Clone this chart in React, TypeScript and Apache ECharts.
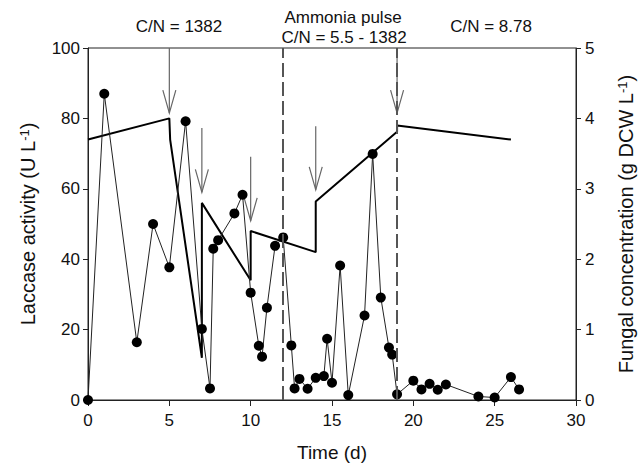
import React, { useEffect, useRef } from "react";
import * as echarts from "echarts";

// Laccase activity (U L-1) vs time (d)
const laccaseTime = [0, 1, 3, 4, 5, 6, 7, 7.5, 7.7, 8, 9, 9.5, 10, 10.5, 10.7, 11, 11.5, 12, 12.5, 12.7, 13, 13.5, 14, 14.5, 14.7, 15, 15.5, 16, 17, 17.5, 18, 18.5, 18.7, 19, 20, 20.5, 21, 21.5, 22, 24, 25, 26, 26.5];
const laccaseValues = [0, 87, 16.4, 50, 37.7, 79.2, 20.2, 3.3, 43, 45.4, 53, 58.3, 30.5, 15.4, 12.3, 26.2, 43.8, 46.2, 15.5, 3.3, 6.0, 3.2, 6.3, 6.8, 17.4, 4.9, 38.2, 1.4, 24.0, 69.9, 29.1, 14.9, 12.9, 1.6, 5.5, 3.0, 4.6, 2.9, 4.4, 1.0, 0.7, 6.5, 3.0];

// Fungal concentration (g DCW L-1)
const fungalTime = [0, 5, 5.05, 7, 7, 10, 10, 14, 14, 19, 19, 26];
const fungalValues = [3.7, 4.0, 3.7, 0.6, 2.8, 1.7, 2.4, 2.1, 2.82, 3.81, 3.9, 3.7];

// Feeding arrows (time, top and tip on the laccase scale)
const arrowTime = [5, 7, 10, 14, 19];
const arrowTop = [100, 77.3, 69.1, 77.8, 100];
const arrowTip = [81.5, 59, 50.9, 59.7, 81.5];

// Phase boundaries (time)
const phaseBounds = [12, 19];

const xTicks = [0, 5, 10, 15, 20, 25, 30];
const leftTicks = [0, 20, 40, 60, 80, 100];
const rightTicks = [0, 1, 2, 3, 4, 5];

const FONT = "'Liberation Sans', Arial, Helvetica, sans-serif";

export default function App() {
  const ref = useRef<HTMLDivElement>(null);
  useEffect(() => {
    if (!ref.current) return;
    const chart = echarts.init(ref.current, undefined, { renderer: "svg" });
    const axisLine = { show: true, lineStyle: { color: "#222", width: 1 } };
    const option: any = {
      animation: false,
      backgroundColor: "#fff",
      textStyle: { fontFamily: FONT },
      grid: { left: 88, right: 66, top: 48, bottom: 67, show: true, borderColor: "#222", borderWidth: 1 },
      xAxis: {
        type: "value",
        min: xTicks[0],
        max: xTicks[xTicks.length - 1],
        interval: 5,
        axisLine,
        axisTick: { show: true, inside: false, length: 6, lineStyle: { color: "#222" } },
        axisLabel: { color: "#111", fontSize: 17, margin: 12, fontFamily: FONT },
        splitLine: { show: false },
        name: "Time (d)",
        nameLocation: "middle",
        nameGap: 43,
        nameTextStyle: { color: "#111", fontSize: 19, fontFamily: FONT },
      },
      yAxis: [
        {
          type: "value",
          min: leftTicks[0],
          max: leftTicks[leftTicks.length - 1],
          interval: 20,
          position: "left",
          axisLine,
          axisTick: { show: true, length: 5, lineStyle: { color: "#222" } },
          axisLabel: { color: "#111", fontSize: 17, margin: 8, fontFamily: FONT },
          splitLine: { show: false },
          name: "Laccase activity (U L{sup|-1})",
          nameLocation: "middle",
          nameRotate: 90,
          nameGap: 50,
          nameTextStyle: {
            color: "#111",
            fontSize: 20,
            fontFamily: FONT,
            rich: { sup: { fontSize: 13, verticalAlign: "top", color: "#111", fontFamily: FONT } },
          },
        },
        {
          type: "value",
          min: rightTicks[0],
          max: rightTicks[rightTicks.length - 1],
          interval: 1,
          position: "right",
          axisLine,
          axisTick: { show: true, length: 5, lineStyle: { color: "#222" } },
          axisLabel: { color: "#111", fontSize: 17, margin: 9, fontFamily: FONT },
          splitLine: { show: false },
          name: "Fungal concentration (g DCW L{sup|-1})",
          nameLocation: "middle",
          nameRotate: 90,
          nameGap: 40,
          nameTextStyle: {
            color: "#111",
            fontSize: 20,
            fontFamily: FONT,
            rich: { sup: { fontSize: 13, verticalAlign: "top", color: "#111", fontFamily: FONT } },
          },
        },
      ],
      graphic: [
        { type: "text", x: 179, y: 26, style: { text: "C/N = 1382", fontSize: 17, fontFamily: FONT, fill: "#111", align: "center", verticalAlign: "middle" } },
        { type: "text", x: 343, y: 17, style: { text: "Ammonia pulse", fontSize: 17, fontFamily: FONT, fill: "#111", align: "center", verticalAlign: "middle" } },
        { type: "text", x: 344, y: 37, style: { text: "C/N = 5.5 - 1382", fontSize: 17, fontFamily: FONT, fill: "#111", align: "center", verticalAlign: "middle" } },
        { type: "text", x: 491, y: 26, style: { text: "C/N = 8.78", fontSize: 17, fontFamily: FONT, fill: "#111", align: "center", verticalAlign: "middle" } },
      ],
      series: [
        {
          type: "line",
          yAxisIndex: 1,
          data: fungalTime.map((t, i) => [t, fungalValues[i]]),
          symbol: "none",
          lineStyle: { color: "#000", width: 2 },
          z: 3,
        },
        {
          type: "line",
          yAxisIndex: 0,
          data: laccaseTime.map((t, i) => [t, laccaseValues[i]]),
          symbol: "circle",
          symbolSize: 10,
          itemStyle: { color: "#000" },
          lineStyle: { color: "#222", width: 1 },
          z: 4,
          markLine: {
            silent: true,
            symbol: "none",
            label: { show: false },
            lineStyle: { color: "#555", width: 2, type: [14, 5] },
            data: phaseBounds.map((b) => ({ xAxis: b })),
          },
        },
        {
          type: "custom",
          yAxisIndex: 0,
          z: 2,
          data: arrowTime.map((t, i) => [t, arrowTop[i], arrowTip[i]]),
          renderItem: (params: any, api: any) => {
            const top = api.coord([api.value(0), api.value(1)]);
            const tip = api.coord([api.value(0), api.value(2)]);
            return {
              type: "group",
              children: [
                { type: "line", shape: { x1: top[0], y1: top[1], x2: tip[0], y2: tip[1] }, style: { stroke: "#666", lineWidth: 1.2 } },
                {
                  type: "polyline",
                  shape: { points: [[tip[0] - 6.5, tip[1] - 23], [tip[0], tip[1]], [tip[0] + 6.5, tip[1] - 23]] },
                  style: { stroke: "#666", fill: "none", lineWidth: 1.2 },
                },
              ],
            };
          },
        },
      ],
    };
    chart.setOption(option);
    return () => chart.dispose();
  }, []);
  return <div ref={ref} style={{ width: 644, height: 467, position: "absolute", left: 0, top: 0 }} />;
}
